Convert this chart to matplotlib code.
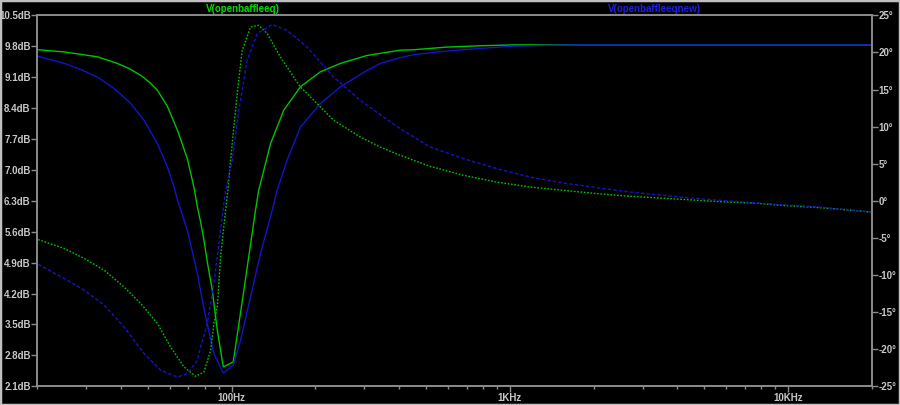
import numpy as np
import matplotlib
matplotlib.use("Agg")
import matplotlib.pyplot as plt
from matplotlib.ticker import FixedLocator, FuncFormatter, LogLocator, NullFormatter
from matplotlib.patches import Rectangle

# V(openbaffleeq) magnitude (dB)
eq_mag_f = [20.2, 25.1, 33.0, 38.9, 43.0, 47.2, 51.0, 54.2, 58.8, 63.9, 69.4, 73.3,
            75.4, 77.4, 79.6, 81.8, 85.3, 86.4, 88.9, 93.4, 101.4, 110.7, 121.9,
            125.2, 127.0, 138.0, 154.0, 176.7, 208.4, 245.9, 306.5, 403.5, 450.3,
            593.2, 780.5, 1027, 1781, 20000]
eq_mag = [9.72, 9.67, 9.56, 9.41, 9.29, 9.14, 8.97, 8.80, 8.44, 7.90, 7.25, 6.60,
          6.16, 5.82, 5.41, 4.92, 4.27, 3.98, 3.37, 2.54, 2.65, 4.27, 6.08,
          6.54, 6.69, 7.59, 8.35, 8.88, 9.22, 9.41, 9.59, 9.71, 9.72,
          9.78, 9.81, 9.83, 9.83, 9.83]

# V(openbaffleeqnew) magnitude (dB)
new_mag_f = [20.2, 25.1, 28.8, 33.0, 37.9, 43.5, 48.5, 54.2, 58.8, 62.1, 63.9, 69.4,
             75.4, 79.6, 86.4, 93.4, 101.4, 107.7, 127.0, 139.9, 145.8, 158.3, 176.7,
             208.4, 245.9, 306.5, 342.0, 392.6, 450.3, 593.2, 780.5, 1027, 1353,
             1781, 20000]
new_mag = [9.57, 9.41, 9.27, 9.10, 8.84, 8.50, 8.12, 7.59, 7.07, 6.62, 6.32, 5.63,
           4.65, 3.85, 2.84, 2.40, 2.58, 3.14, 5.10, 6.08, 6.54, 7.22, 7.97,
           8.50, 8.88, 9.25, 9.41, 9.52, 9.61, 9.69, 9.75, 9.80, 9.82,
           9.83, 9.83]

# V(openbaffleeq) phase (deg)
eq_ph_f = [20.2, 25.1, 29.6, 34.9, 41.1, 47.2, 54.2, 60.4, 67.5, 74.3, 79.6, 84.1,
           86.4, 88.9, 91.3, 95.2, 97.0, 99.2, 101.9, 104.8, 109.2, 117.0, 125.2,
           134.3, 149.8, 176.7, 202.9, 232.7, 290.0, 342.0, 403.5, 516.8, 680.1,
           896.0, 1179, 1552, 2046, 2692, 3263, 4298, 5657, 7447, 9813, 12917,
           17006, 19790]
eq_ph = [-5.23, -6.44, -7.79, -9.37, -11.62, -13.85, -16.55, -19.70, -22.40, -23.65,
         -23.07, -20.15, -16.55, -14.31, -7.57, -1.28, 1.42, 5.46, 9.95, 14.45,
         20.28, 23.42, 23.65, 22.53, 19.38, 15.34, 13.10, 10.85, 8.60, 7.25, 6.13,
         4.65, 3.44, 2.53, 1.86, 1.42, 0.97, 0.61, 0.43, 0.16, -0.11, -0.30, -0.65,
         -0.92, -1.28, -1.51]

# V(openbaffleeqnew) phase (deg)
new_ph_f = [20.2, 25.1, 29.6, 34.9, 41.1, 48.5, 55.7, 63.9, 69.4, 75.4, 77.4, 81.8,
            86.4, 91.3, 95.2, 100.6, 106.2, 113.8, 123.6, 139.9, 158.3, 186.7, 232.7,
            290.0, 351.5, 403.5, 516.8, 680.1, 896.0, 1179, 1552, 2046, 2692, 3263,
            4298, 5657, 7447, 9813, 12917, 17006, 19790]
new_ph = [-8.56, -10.49, -12.06, -14.08, -17.01, -20.59, -22.84, -23.75, -23.29,
          -21.50, -19.70, -16.55, -11.16, -3.98, 1.42, 5.46, 12.20, 18.94, 22.53,
          23.75, 22.98, 20.73, 16.68, 13.54, 11.29, 9.73, 7.25, 5.69, 4.34, 3.21,
          2.40, 1.78, 1.19, 0.88, 0.43, 0.07, -0.24, -0.57, -0.84, -1.28, -1.51]

db_ticks = [2.1, 2.8, 3.5, 4.2, 4.9, 5.6, 6.3, 7.0, 7.7, 8.4, 9.1, 9.8, 10.5]
deg_ticks = [-25, -20, -15, -10, -5, 0, 5, 10, 15, 20, 25]
f_ticks = [100, 1000, 10000]
f_labels = ["100Hz", "1KHz", "10KHz"]

green = "#00c400"
blue = "#1414c8"
grey = "#8c8c8c"
txt = "#c8c8c8"
font = dict(family=["Liberation Sans", "DejaVu Sans"], weight="bold", size=7)

fig = plt.figure(figsize=(9, 4.05), dpi=100, facecolor="black")
ax = fig.add_axes([37 / 900, 1 - 386.3 / 405, 835 / 900, 371 / 405])
ax.set_facecolor("black")
ax2 = ax.twinx()

ax.semilogx(eq_mag_f, eq_mag, color=green, lw=1.0)
ax.semilogx(new_mag_f, new_mag, color=blue, lw=1.0)
ax2.semilogx(eq_ph_f, eq_ph, color=green, lw=1.0, ls=(0, (1.2, 1.2)))
ax2.semilogx(new_ph_f, new_ph, color=blue, lw=1.0, ls=(0, (2.5, 1.5)))

ax.set_xlim(20, 20000)
ax.set_ylim(2.1, 10.5)
ax2.set_ylim(-25, 25)

ax.xaxis.set_major_locator(FixedLocator(f_ticks))
ax.set_xticklabels(f_labels)
ax.xaxis.set_minor_locator(LogLocator(base=10, subs=np.arange(2, 10)))
ax.xaxis.set_minor_formatter(NullFormatter())
ax.yaxis.set_major_locator(FixedLocator(db_ticks))
ax.yaxis.set_major_formatter(FuncFormatter(lambda v, p: "%.1fdB" % v))
ax2.yaxis.set_major_locator(FixedLocator(deg_ticks))
ax2.yaxis.set_major_formatter(FuncFormatter(lambda v, p: "%d\u00b0" % v))

for a in (ax, ax2):
    for s in a.spines.values():
        s.set_color(grey)
        s.set_linewidth(1.2)
    a.tick_params(which="major", colors=grey, length=4, width=1, pad=0.5)
    a.tick_params(which="minor", colors=grey, length=2, width=1)
    for lab in a.get_xticklabels() + a.get_yticklabels():
        lab.set_color(txt)
        lab.set_fontfamily(font["family"])
        lab.set_fontweight("bold")
        lab.set_fontsize(7)

fig.text(243 / 900, 1 - 9 / 405, "V(openbaffleeq)", color="#00dc00", ha="center",
         va="center", **font)
fig.text(655 / 900, 1 - 9 / 405, "V(openbaffleeqnew)", color="#1e1ee6", ha="center",
         va="center", **font)

fig.patches.append(Rectangle((0, 0), 1, 1, transform=fig.transFigure, fill=False,
                             edgecolor="#c0c0c0", lw=2.5))

fig.savefig("out.png", dpi=100, facecolor="black")
